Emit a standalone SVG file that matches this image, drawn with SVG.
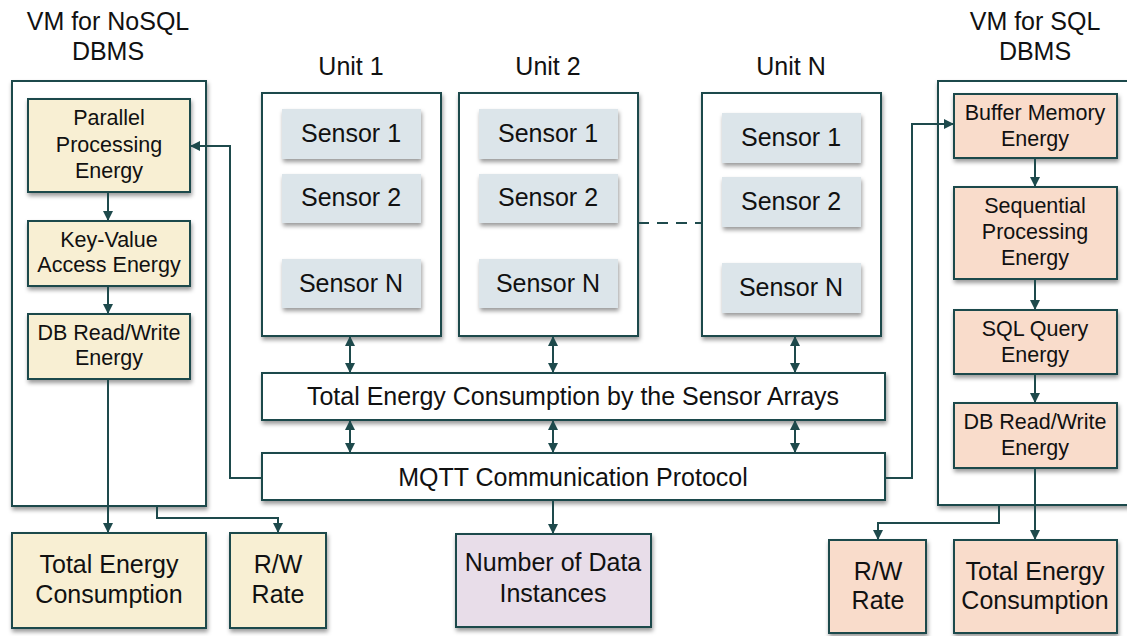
<svg xmlns="http://www.w3.org/2000/svg" width="1127" height="636" viewBox="0 0 1127 636">
<defs>
<filter id="sh" x="-10%" y="-10%" width="130%" height="140%">
<feDropShadow dx="1" dy="3" stdDeviation="2" flood-color="#000" flood-opacity="0.4"/>
</filter>
<marker id="ah" viewBox="0 0 10 10" refX="10" refY="5" markerWidth="10" markerHeight="10" markerUnits="userSpaceOnUse" orient="auto-start-reverse">
<path d="M0,0 L10,5 L0,10 z" fill="#1e4a4c"/>
</marker>
<style>
.box{stroke:#1e4a4c;stroke-width:2;filter:url(#sh)}
.w{fill:#ffffff}
.y{fill:#f8efd3}
.o{fill:#f9dccb}
.p{fill:#e8dde9}
.s{fill:#dce5ea;stroke:none;filter:url(#sh)}
text{font-family:"Liberation Sans",Arial,sans-serif;fill:#111;text-anchor:middle}
.t24{font-size:25px}
.t21{font-size:21.5px}
.c{fill:none;stroke:#1e4a4c;stroke-width:2}
.a{marker-end:url(#ah)}
.d{marker-start:url(#ah);marker-end:url(#ah)}
</style>
</defs>
<g id="titles">
<text class="t24" x="108" y="30">VM for NoSQL</text>
<text class="t24" x="108" y="60">DBMS</text>
<text class="t24" x="1035" y="30">VM for SQL</text>
<text class="t24" x="1035" y="60">DBMS</text>
<text class="t24" x="351" y="75">Unit 1</text>
<text class="t24" x="548" y="75">Unit 2</text>
<text class="t24" x="791" y="75">Unit N</text>
</g>
<g id="vm-nosql"><rect class="box w" x="12" y="81" width="194" height="425"/></g>
<g id="vm-sql"><rect class="box w" x="938" y="81" width="200" height="424"/></g>
<g id="unit1">
<rect class="box w" x="262" y="93" width="179" height="243"/>
<rect class="s" x="282" y="109" width="139" height="50"/><text class="t24" x="351" y="142">Sensor 1</text>
<rect class="s" x="282" y="174" width="139" height="49"/><text class="t24" x="351" y="206">Sensor 2</text>
<rect class="s" x="282" y="259" width="139" height="49"/><text class="t24" x="351" y="292">Sensor N</text>
</g>
<g id="unit2">
<rect class="box w" x="459" y="93" width="179" height="243"/>
<rect class="s" x="479" y="109" width="139" height="50"/><text class="t24" x="548" y="142">Sensor 1</text>
<rect class="s" x="479" y="174" width="139" height="49"/><text class="t24" x="548" y="206">Sensor 2</text>
<rect class="s" x="479" y="259" width="139" height="49"/><text class="t24" x="548" y="292">Sensor N</text>
</g>
<g id="unitN">
<rect class="box w" x="702" y="93" width="179" height="243"/>
<rect class="s" x="722" y="113" width="139" height="50"/><text class="t24" x="791" y="146">Sensor 1</text>
<rect class="s" x="722" y="177" width="139" height="50"/><text class="t24" x="791" y="210">Sensor 2</text>
<rect class="s" x="722" y="263" width="139" height="50"/><text class="t24" x="791" y="296">Sensor N</text>
</g>
<g id="total-sensor">
<rect class="box w" x="262" y="373" width="623" height="47"/>
<text class="t24" x="573" y="405">Total Energy Consumption by the Sensor Arrays</text>
</g>
<g id="mqtt">
<rect class="box w" x="262" y="453" width="623" height="47"/>
<text class="t24" x="573" y="486">MQTT Communication Protocol</text>
</g>
<g id="parallel">
<rect class="box y" x="28" y="99" width="162" height="93"/>
<text class="t21" x="109" y="125">Parallel</text>
<text class="t21" x="109" y="152">Processing</text>
<text class="t21" x="109" y="178">Energy</text>
</g>
<g id="keyvalue">
<rect class="box y" x="28" y="221" width="162" height="65"/>
<text class="t21" x="109" y="247">Key-Value</text>
<text class="t21" x="109" y="272">Access Energy</text>
</g>
<g id="dbrw-nosql">
<rect class="box y" x="28" y="314" width="162" height="65"/>
<text class="t21" x="109" y="340">DB Read/Write</text>
<text class="t21" x="109" y="365">Energy</text>
</g>
<g id="total-nosql">
<rect class="box y" x="12" y="533" width="194" height="95"/>
<text class="t24" x="109" y="573">Total Energy</text>
<text class="t24" x="109" y="603">Consumption</text>
</g>
<g id="rw-nosql">
<rect class="box y" x="230" y="533" width="96" height="95"/>
<text class="t24" x="278" y="573">R/W</text>
<text class="t24" x="278" y="603">Rate</text>
</g>
<g id="instances">
<rect class="box p" x="456" y="534" width="195" height="93"/>
<text class="t24" x="553" y="571">Number of Data</text>
<text class="t24" x="553" y="602">Instances</text>
</g>
<g id="buffer">
<rect class="box o" x="954" y="94" width="163" height="64"/>
<text class="t21" x="1035" y="120">Buffer Memory</text>
<text class="t21" x="1035" y="146">Energy</text>
</g>
<g id="sequential">
<rect class="box o" x="954" y="187" width="163" height="92"/>
<text class="t21" x="1035" y="213">Sequential</text>
<text class="t21" x="1035" y="239">Processing</text>
<text class="t21" x="1035" y="265">Energy</text>
</g>
<g id="sqlquery">
<rect class="box o" x="954" y="310" width="163" height="64"/>
<text class="t21" x="1035" y="336">SQL Query</text>
<text class="t21" x="1035" y="362">Energy</text>
</g>
<g id="dbrw-sql">
<rect class="box o" x="954" y="403" width="163" height="65"/>
<text class="t21" x="1035" y="429">DB Read/Write</text>
<text class="t21" x="1035" y="455">Energy</text>
</g>
<g id="rw-sql">
<rect class="box o" x="829" y="540" width="97" height="93"/>
<text class="t24" x="878" y="580">R/W</text>
<text class="t24" x="878" y="609">Rate</text>
</g>
<g id="total-sql">
<rect class="box o" x="954" y="540" width="163" height="93"/>
<text class="t24" x="1035" y="580">Total Energy</text>
<text class="t24" x="1035" y="609">Consumption</text>
</g>
<g id="connectors">
<path class="c a" d="M108,192 V221"/>
<path class="c a" d="M108,286 V314"/>
<path class="c a" d="M108,379 V533"/>
<path class="c a" d="M157,506 V518 H278 V533"/>
<path class="c a" d="M262,478 H230 V146 H190"/>
<path class="c d" d="M350,336 V373"/>
<path class="c d" d="M553,336 V373"/>
<path class="c d" d="M795,336 V373"/>
<path class="c d" d="M350,420 V453"/>
<path class="c d" d="M553,420 V453"/>
<path class="c d" d="M795,420 V453"/>
<path class="c a" d="M553,500 V534"/>
<path class="c a" d="M885,478 H912 V124 H954"/>
<path class="c a" d="M1035,158 V187"/>
<path class="c a" d="M1035,279 V310"/>
<path class="c a" d="M1035,374 V403"/>
<path class="c a" d="M1035,468 V540"/>
<path class="c a" d="M999,505 V523 H878 V540"/>
<path class="c" d="M638,223 H702" stroke-dasharray="11,8"/>
</g>
</svg>
